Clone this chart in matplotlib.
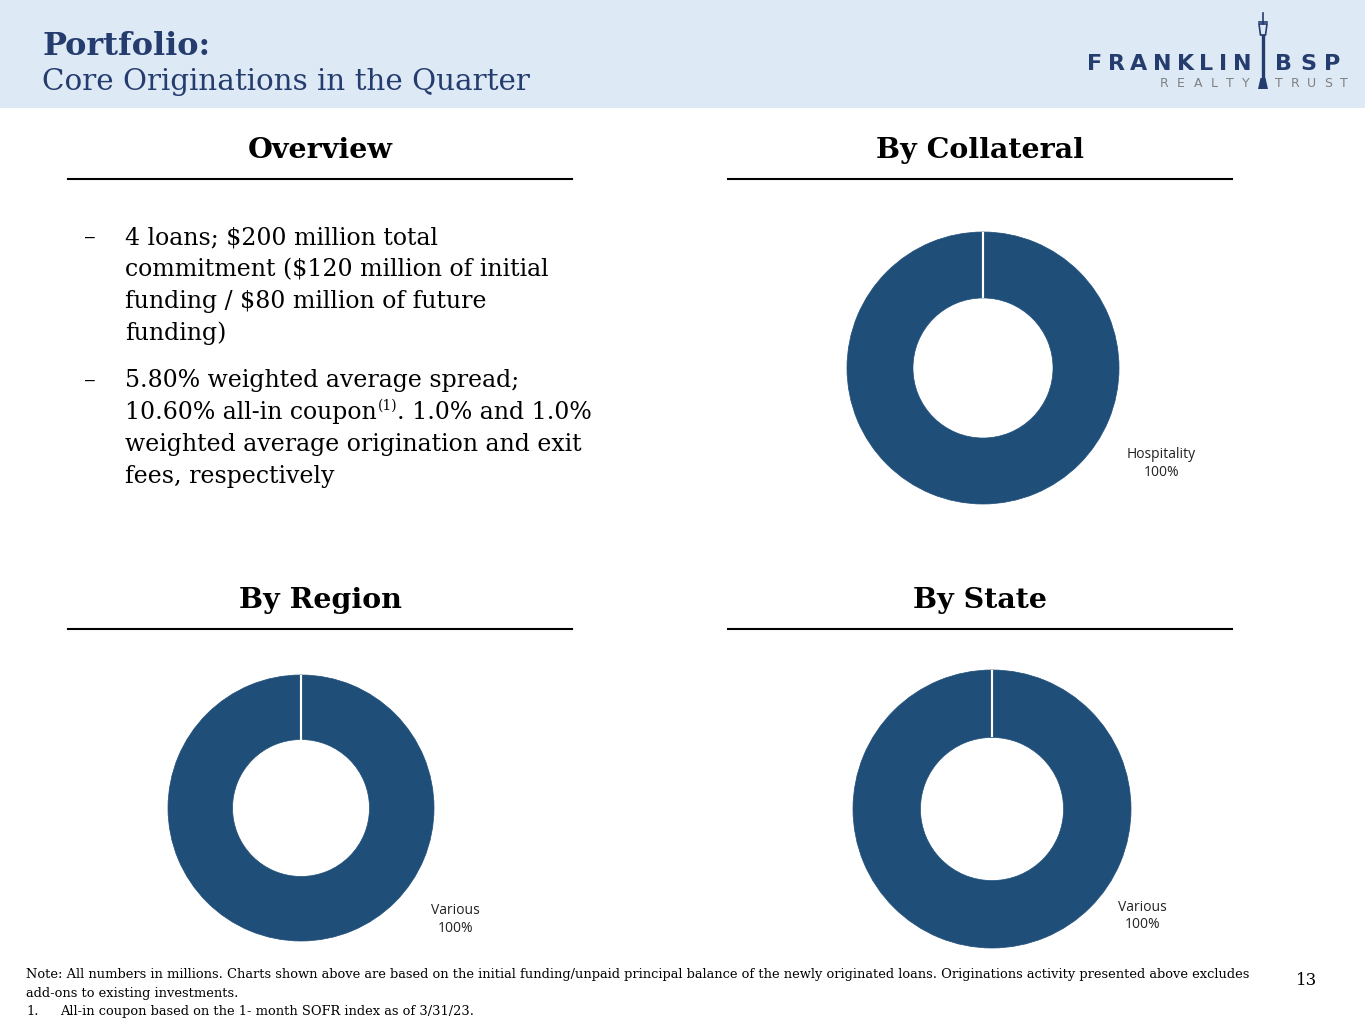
import matplotlib
matplotlib.use("Agg")
import numpy as np
import matplotlib.pyplot as plt
from matplotlib.patches import Rectangle, Polygon
from matplotlib.lines import Line2D

# ---------------- data ----------------
title_bold = "Portfolio:"
title_sub = "Core Originations in the Quarter"
section_titles = ["Overview", "By Collateral", "By Region", "By State"]

bullet1 = ["4 loans; $200 million total",
           "commitment ($120 million of initial",
           "funding / $80 million of future",
           "funding)"]
bullet2 = ["5.80% weighted average spread;",
           ("10.60% all-in coupon", "(1)", ". 1.0% and 1.0%"),
           "weighted average origination and exit",
           "fees, respectively"]

collateral_labels = ["Hospitality"]
collateral_values = [100]
region_labels = ["Various"]
region_values = [100]
state_labels = ["Various"]
state_values = [100]

footnotes = [
    "Note: All numbers in millions. Charts shown above are based on the initial funding/unpaid principal balance of the newly originated loans. Originations activity presented above excludes",
    "add-ons to existing investments.",
]
footnote1 = "All-in coupon based on the 1- month SOFR index as of 3/31/23."
page_number = "13"

# ---------------- styles ----------------
W, H = 1365, 1024
NAVY = "#253C6E"
PIE = "#1F4E79"
BAND = "#DDE9F5"
SERIF = "DejaVu Serif"

fig = plt.figure(figsize=(W / 100, H / 100), dpi=100)
fig.patch.set_facecolor("white")
renderer = fig.canvas.get_renderer()


def fx(x):
    return x / W


def fy(y):
    return 1 - y / H


# header band
fig.patches.append(Rectangle((0, fy(108)), 1, 108 / H, transform=fig.transFigure,
                             facecolor=BAND, edgecolor="none", zorder=0))
fig.text(fx(42), fy(55), title_bold, fontsize=23, fontweight="bold", color=NAVY,
         family=SERIF, va="baseline")
fig.text(fx(42), fy(90), title_sub, fontsize=21.2, color=NAVY,
         family=SERIF, va="baseline")


# logo: letters with even tracking across their spans
def spread(word, x0, x1, ybase, size, weight, color):
    texts = [fig.text(0, fy(ybase), ch, fontsize=size, fontweight=weight, color=color,
                      family="DejaVu Sans", ha="left", va="baseline") for ch in word]
    widths = [t.get_window_extent(renderer).width for t in texts]
    gap = ((x1 - x0) - sum(widths)) / max(len(word) - 1, 1)
    x = x0
    for t, w in zip(texts, widths):
        t.set_x(fx(x))
        x += w + gap


spread("FRANKLIN", 1087, 1251, 70, 16, "bold", NAVY)
spread("BSP", 1275, 1340, 70, 16, "bold", NAVY)
spread("REALTY", 1160, 1250, 87, 9, "normal", "#808080")
spread("TRUST", 1275, 1348, 87, 9, "normal", "#808080")
# lamp post
fig.lines.append(Line2D([fx(1263), fx(1263)], [fy(36), fy(86)], transform=fig.transFigure,
                        color=NAVY, lw=2.4))
fig.patches.append(Polygon([(fx(1258), fy(89)), (fx(1268), fy(89)), (fx(1265.5), fy(78)),
                            (fx(1260.5), fy(78))], closed=True, transform=fig.transFigure,
                           facecolor=NAVY, edgecolor="none"))
fig.patches.append(Polygon([(fx(1259), fy(24)), (fx(1267), fy(24)), (fx(1265.5), fy(35)),
                            (fx(1260.5), fy(35))], closed=True, transform=fig.transFigure,
                           facecolor="none", edgecolor=NAVY, lw=1.2))
fig.lines.append(Line2D([fx(1263), fx(1263)], [fy(13), fy(24)], transform=fig.transFigure,
                        color=NAVY, lw=1.2))
fig.lines.append(Line2D([fx(1259), fx(1267)], [fy(22), fy(22)], transform=fig.transFigure,
                        color=NAVY, lw=1.2))

# section headers
sec_pos = [(320, 150, 68, 572, 179), (980, 150, 728, 1232, 179),
           (320, 600, 68, 572, 629), (980, 600, 728, 1232, 629)]
for t, (cx, cy, x0, x1, ly) in zip(section_titles, sec_pos):
    fig.text(fx(cx), fy(cy), t, fontsize=20.5, fontweight="bold", color="black",
             family=SERIF, ha="center", va="center")
    fig.lines.append(Line2D([fx(x0), fx(x1)], [fy(ly), fy(ly)], transform=fig.transFigure,
                            color="black", lw=1.5))

# bullets
for lines, y0 in ((bullet1, 244), (bullet2, 387)):
    fig.text(fx(84), fy(y0), "\u2013", fontsize=17, color="black", family=SERIF,
             va="baseline")
    for i, ln in enumerate(lines):
        yb = y0 + 32 * i
        if isinstance(ln, tuple):
            t1 = fig.text(fx(125), fy(yb), ln[0], fontsize=17, color="black",
                          family=SERIF, va="baseline")
            x = t1.get_window_extent(renderer).x1
            t2 = fig.text(x / W + 1 / W, fy(yb - 9), ln[1], fontsize=10, color="black",
                          family=SERIF, va="baseline")
            x = t2.get_window_extent(renderer).x1
            fig.text(x / W, fy(yb), ln[2], fontsize=17, color="black",
                     family=SERIF, va="baseline")
        else:
            fig.text(fx(125), fy(yb), ln, fontsize=17, color="black",
                     family=SERIF, va="baseline")


# donuts
def donut(cx, cy, r, labels, values, lab_xy):
    size = r * 2.2
    ax = fig.add_axes([fx(cx - size / 2), fy(cy + size / 2), size / W, size / H])
    width = 0.485
    wedges, _ = ax.pie(values, radius=1.0, startangle=90, counterclock=False, colors=[PIE],
                       wedgeprops=dict(width=width, edgecolor=PIE, linewidth=0.5))
    # white separator at wedge boundaries
    for w in wedges:
        for ang in (w.theta1, w.theta2):
            a = np.deg2rad(ang)
            ax.plot([(1 - width) * np.cos(a), np.cos(a)], [(1 - width) * np.sin(a), np.sin(a)],
                    color="white", lw=1.5, solid_capstyle="butt")
    ax.set_xlim(-1.1, 1.1)
    ax.set_ylim(-1.1, 1.1)
    ax.set_aspect("equal")
    ax.axis("off")
    total = sum(values)
    for lab, v in zip(labels, values):
        ax.text(lab_xy[0], lab_xy[1], f"{lab}\n{v / total * 100:.0f}%", ha="center",
                va="center", fontsize=10, family="Open Sans", color="#222222",
                linespacing=1.25)


donut(983, 368, 136, collateral_labels, collateral_values, (1.31, -0.70))
donut(301, 808, 133, region_labels, region_values, (1.16, -0.84))
donut(992, 809, 139, state_labels, state_values, (1.08, -0.77))

# footer
FS = 9.4
fig.text(fx(26), fy(978), footnotes[0], fontsize=FS, family=SERIF,
         color="black", va="baseline")
fig.text(fx(26), fy(997), footnotes[1], fontsize=FS, family=SERIF,
         color="black", va="baseline")
fig.text(fx(26), fy(1015), "1.", fontsize=FS, family=SERIF,
         color="black", va="baseline")
fig.text(fx(60), fy(1015), footnote1, fontsize=FS, family=SERIF,
         color="black", va="baseline")
fig.text(fx(1307), fy(985), page_number, fontsize=12, family=SERIF,
         color="black", va="baseline", ha="center")

fig.savefig("out.png", dpi=100)
